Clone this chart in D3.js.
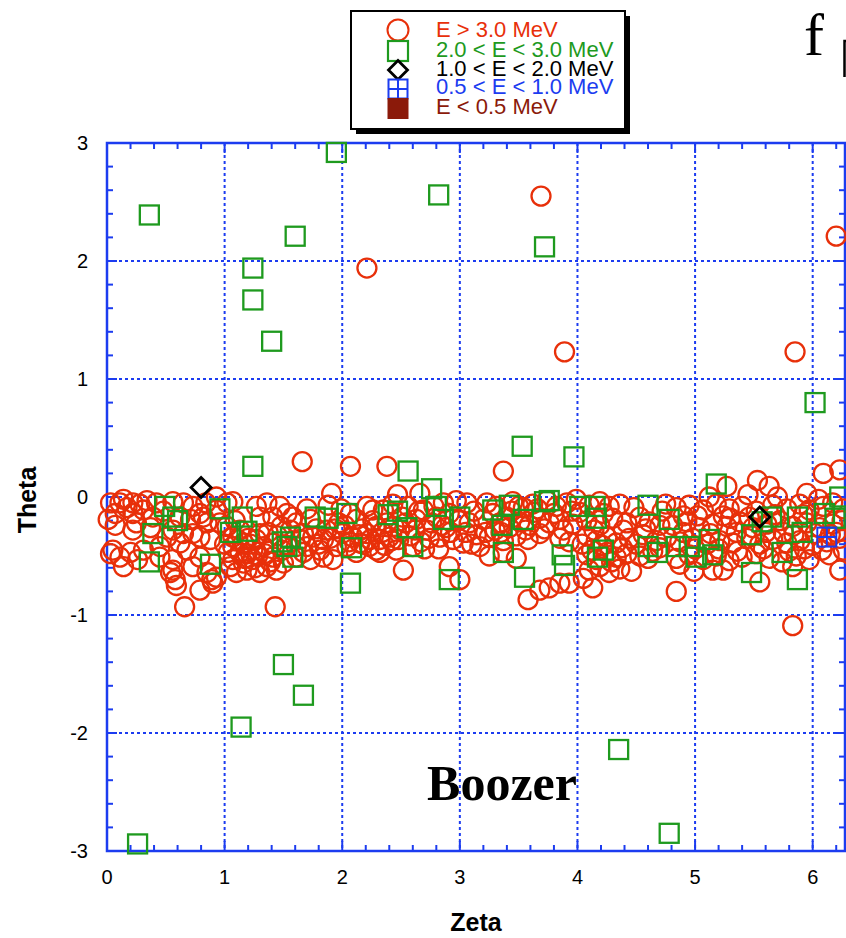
<!DOCTYPE html>
<html>
<head>
<meta charset="utf-8">
<script src="https://cdn.jsdelivr.net/npm/d3@7"></script>
<style>
  html, body { margin: 0; padding: 0; background: #fff; }
  svg { display: block; }
</style>
</head>
<body>
<div id="chart"></div>
<script>
// Data: [zeta, theta]
const redOutliers = [
  [3.69, 2.55], [2.21, 1.94], [3.89, 1.23], [5.85, 1.23], [6.20, 2.21],
  [1.66, 0.30], [2.07, 0.26], [2.38, 0.26], [3.37, 0.22],
  [1.43, -0.93], [0.66, -0.93], [5.83, -1.09], [4.84, -0.80]
];

const redBand = [
  // zeta 0 - 1
  [0.03, -0.05], [0.07, -0.14], [0.01, -0.19], [0.11, -0.05], [0.17, -0.09], [0.07, -0.24],
  [0.22, -0.14], [0.34, -0.03], [0.31, -0.11], [0.25, -0.22], [0.42, -0.05], [0.39, -0.17],
  [0.56, -0.04], [0.65, -0.05], [0.73, -0.08], [0.62, -0.17], [0.71, -0.19], [0.79, -0.14],
  [0.85, -0.22], [0.93, 0.00], [0.93, -0.11], [1.02, -0.05], [0.56, -0.28], [0.65, -0.31],
  [0.51, -0.34], [0.73, -0.31], [0.79, -0.34], [0.62, -0.39], [0.88, -0.36], [0.05, -0.45],
  [0.11, -0.51], [0.20, -0.47], [0.14, -0.59], [0.31, -0.45], [0.45, -0.51], [0.56, -0.53],
  [0.45, -0.42], [0.22, -0.28], [0.37, -0.26], [0.54, -0.64], [0.58, -0.70], [0.59, -0.75],
  [0.56, -0.62], [0.73, -0.59], [0.79, -0.51], [0.85, -0.64], [0.89, -0.70], [0.93, -0.68],
  [0.79, -0.79], [0.90, -0.73], [0.82, -0.17], [0.96, -0.22], [0.22, -0.05], [0.14, -0.02],
  [0.28, -0.06], [0.48, -0.12], [0.03, -0.48], [0.26, -0.53], [0.68, -0.45], [0.84, -0.05],
  // zeta 1 - 1.6
  [1.07, -0.42], [1.16, -0.39], [1.24, -0.45], [1.33, -0.42], [1.41, -0.39], [1.49, -0.45],
  [1.07, -0.53], [1.16, -0.56], [1.24, -0.53], [1.36, -0.59], [1.19, -0.62], [1.10, -0.64],
  [1.05, -0.59], [1.30, -0.64], [1.44, -0.62], [1.19, -0.48], [1.07, -0.34], [1.13, -0.28],
  [1.02, -0.25], [1.36, -0.05], [1.27, -0.08], [1.47, -0.08], [1.30, -0.31], [1.41, -0.51],
  [1.50, -0.56], [1.07, -0.04], [1.30, -0.17], [1.41, -0.17], [1.53, -0.14], [1.56, -0.28],
  [1.53, -0.41], [1.20, -0.35], [1.37, -0.30], [1.28, -0.50], [1.13, -0.47],
  [1.03, -0.47], [1.11, -0.36], [1.22, -0.40], [1.27, -0.36], [1.34, -0.48], [1.45, -0.33],
  [1.39, -0.55], [1.17, -0.52], [1.26, -0.60], [1.00, -0.40], [1.48, -0.25], [1.09, -0.20],
  // zeta 1.6 - 3.2
  [1.91, 0.03], [2.66, 0.03], [1.88, -0.07], [1.61, -0.22], [1.67, -0.31], [1.61, -0.42],
  [1.67, -0.47], [1.75, -0.34], [1.84, -0.36], [1.87, -0.28], [1.92, -0.53], [1.81, -0.45],
  [2.00, -0.31], [2.07, -0.14], [2.12, -0.19], [2.15, -0.39], [2.12, -0.47], [2.21, -0.31],
  [2.23, -0.42], [2.29, -0.25], [2.32, -0.36], [2.38, -0.22], [2.40, -0.34], [2.46, -0.45],
  [2.49, -0.28], [2.51, -0.17], [2.52, -0.62], [2.35, -0.11], [2.60, -0.42], [2.63, -0.19],
  [2.69, -0.11], [2.72, -0.28], [2.80, -0.17], [2.83, -0.34], [2.86, -0.05], [2.91, -0.14],
  [2.94, -0.36], [2.97, -0.03], [3.03, -0.39], [3.06, -0.05], [3.08, -0.22], [2.91, -0.59],
  [3.00, -0.70], [1.58, -0.17], [1.73, -0.19], [2.21, -0.08], [2.26, -0.11], [1.95, -0.42],
  [2.04, -0.42], [2.09, -0.34], [2.29, -0.45], [1.84, -0.51], [1.73, -0.53], [1.61, -0.51],
  [2.32, -0.47], [1.97, -0.22], [2.17, -0.27], [2.43, -0.06], [2.56, -0.08], [2.58, -0.33],
  [2.67, -0.38], [2.76, -0.22], [2.88, -0.26], [3.12, -0.12], [3.14, -0.32], [2.47, 0.02],
  [2.44, -0.25], [2.26, -0.20],
  [1.64, -0.36], [1.70, -0.42], [1.78, -0.27], [1.80, -0.40], [1.90, -0.35], [1.94, -0.27],
  [2.02, -0.24], [2.06, -0.38], [2.14, -0.32], [1.70, -0.10], [1.99, -0.10], [2.18, -0.40],
  [2.24, -0.36], [2.34, -0.30], [2.36, -0.41], [2.42, -0.37], [2.48, -0.36], [2.54, -0.22],
  [2.62, -0.28], [2.65, -0.12], [2.74, -0.35], [2.78, -0.08], [2.85, -0.24], [2.92, -0.30],
  [2.99, -0.20], [3.05, -0.30], [3.10, -0.40], [2.70, -0.44], [2.82, -0.44],
  // zeta 3.2 - 4.8
  [3.23, -0.05], [3.31, -0.08], [3.45, -0.04], [3.54, -0.09], [3.62, -0.06], [3.74, -0.03],
  [3.82, -0.08], [3.91, -0.05], [3.99, -0.02], [4.10, -0.07], [4.19, -0.04], [4.27, -0.08],
  [4.36, -0.06],
  [3.20, -0.19], [3.34, -0.22], [3.40, -0.17], [3.51, -0.21], [3.59, -0.24], [3.68, -0.18],
  [3.76, -0.22], [3.85, -0.19], [3.96, -0.23], [4.08, -0.20], [4.19, -0.24], [4.30, -0.18],
  [4.42, -0.22], [4.53, -0.17], [4.61, -0.21], [4.70, -0.24],
  [3.25, -0.34], [3.37, -0.37], [3.48, -0.33], [3.58, -0.36], [3.68, -0.31], [3.85, -0.35],
  [3.93, -0.38], [4.08, -0.33], [4.16, -0.37], [4.25, -0.34], [4.33, -0.39], [4.44, -0.35],
  [4.56, -0.32], [4.67, -0.37], [4.76, -0.34],
  [3.25, -0.50], [3.37, -0.47], [3.48, -0.52], [4.08, -0.49], [4.16, -0.53], [4.25, -0.47],
  [4.33, -0.51], [4.42, -0.48], [4.53, -0.50], [4.64, -0.46],
  [4.10, -0.62], [4.19, -0.59], [4.27, -0.64], [4.36, -0.61], [4.46, -0.63],
  [3.58, -0.87], [3.68, -0.79], [3.76, -0.77], [3.85, -0.73], [3.93, -0.73], [4.13, -0.77],
  [4.05, -0.69],
  [3.30, -0.28], [3.44, -0.12], [3.63, -0.13], [3.72, -0.27], [3.80, -0.14], [4.02, -0.13],
  [4.14, -0.28], [4.22, -0.14], [4.39, -0.28], [4.48, -0.09], [4.58, -0.27], [4.72, -0.12],
  [3.17, -0.42],
  [3.28, -0.14], [3.35, -0.30], [3.42, -0.26], [3.50, -0.08], [3.56, -0.28], [3.66, -0.10],
  [3.88, -0.28], [3.95, -0.12], [4.04, -0.40], [4.12, -0.45], [4.21, -0.41], [4.29, -0.55],
  [4.38, -0.43], [4.50, -0.40], [4.60, -0.52], [4.70, -0.43], [4.75, -0.06], [3.22, -0.30],
  // zeta 4.8 - 6.28
  [4.84, -0.09], [4.95, -0.07], [5.07, -0.11], [5.18, -0.06], [5.29, -0.10], [5.40, -0.08],
  [5.52, -0.12], [5.66, -0.07], [5.78, -0.10], [5.89, -0.06], [5.97, -0.11], [6.09, -0.08],
  [6.17, -0.05], [6.26, -0.10],
  [4.81, -0.24], [4.93, -0.21], [5.04, -0.26], [5.15, -0.23], [5.27, -0.25], [5.38, -0.21],
  [5.49, -0.26], [5.61, -0.23], [5.72, -0.20], [5.83, -0.25], [5.95, -0.22], [6.06, -0.26],
  [6.17, -0.23],
  [4.87, -0.38], [4.98, -0.35], [5.10, -0.40], [5.21, -0.37], [5.32, -0.39], [5.44, -0.35],
  [5.55, -0.40], [5.66, -0.36], [5.78, -0.39], [5.89, -0.37], [6.00, -0.41], [6.12, -0.38],
  [6.23, -0.35],
  [4.84, -0.52], [4.95, -0.49], [5.07, -0.53], [5.18, -0.50], [5.29, -0.54], [5.40, -0.51],
  [5.52, -0.48], [5.63, -0.52], [5.74, -0.55], [5.86, -0.50], [5.97, -0.53], [6.14, -0.49],
  [4.87, -0.57], [5.15, -0.62], [5.24, -0.62], [5.55, -0.72], [5.83, -0.59], [6.23, -0.62],
  [4.99, -0.63],
  [5.53, 0.14], [5.63, 0.09], [5.27, 0.09], [6.09, 0.20], [6.23, 0.23], [5.45, 0.02],
  [5.70, 0.00], [5.95, 0.03], [6.05, -0.02], [5.12, 0.00],
  [4.90, -0.30], [5.02, -0.16], [5.24, -0.16], [5.35, -0.30], [5.46, -0.17], [5.60, -0.30],
  [5.75, -0.30], [5.92, -0.15], [6.02, -0.31], [6.20, -0.30],
  [4.90, -0.16], [5.00, -0.44], [5.13, -0.31], [5.20, -0.44], [5.30, -0.18], [5.36, -0.46],
  [5.48, -0.33], [5.58, -0.44], [5.68, -0.15], [5.80, -0.46], [5.84, -0.32], [5.93, -0.44],
  [6.08, -0.45], [6.15, -0.32], [6.26, -0.45], [6.25, -0.20]
];

const greenSquares = [
  [0.36, 2.39], [1.95, 2.92], [2.82, 2.56], [1.24, 1.94], [1.60, 2.21], [1.24, 1.67],
  [1.40, 1.32], [3.72, 2.12], [6.02, 0.80], [1.24, 0.26], [2.56, 0.22], [2.76, 0.07],
  [3.53, 0.43], [3.97, 0.34], [5.18, 0.11], [2.07, -0.73], [2.91, -0.70], [3.55, -0.68],
  [5.48, -0.64], [5.87, -0.70], [1.50, -1.42], [1.67, -1.68], [1.14, -1.95], [4.35, -2.14],
  [4.78, -2.85], [0.26, -2.94], [0.36, -0.55],
  [0.49, -0.08], [0.56, -0.17], [0.60, -0.20], [0.39, -0.31], [0.96, -0.10], [0.88, -0.57],
  [1.15, -0.17], [1.05, -0.30], [1.19, -0.29], [1.49, -0.38], [1.53, -0.42], [1.56, -0.34],
  [1.58, -0.51], [1.77, -0.17], [1.88, -0.18], [2.04, -0.14], [2.08, -0.43], [2.39, -0.15],
  [2.47, -0.12], [2.55, -0.26], [2.60, -0.42], [2.80, -0.08], [2.86, -0.19], [3.00, -0.17],
  [3.28, -0.11], [3.42, -0.07], [3.54, -0.19], [3.36, -0.24], [3.72, -0.04], [3.76, -0.03],
  [4.02, -0.08], [4.15, -0.08], [4.16, -0.18], [3.37, -0.47], [3.87, -0.49], [3.89, -0.58],
  [4.22, -0.45], [4.17, -0.51], [4.60, -0.07], [4.60, -0.42], [4.68, -0.47], [4.78, -0.19],
  [4.84, -0.42], [4.95, -0.42], [5.01, -0.51], [5.12, -0.36], [5.15, -0.49], [5.48, -0.32],
  [5.57, -0.21], [5.65, -0.17], [5.74, -0.47], [5.87, -0.17], [5.91, -0.30], [6.10, -0.14],
  [6.19, -0.18], [6.23, 0.00]
];

const blackDiamonds = [[0.80, 0.08], [5.55, -0.17]];
const blueSquares = [[6.12, -0.34]];

const xTicks = [0, 1, 2, 3, 4, 5, 6];
const yTicks = [-3, -2, -1, 0, 1, 2, 3];

const legendLabels = ['E > 3.0 MeV', '2.0 < E < 3.0 MeV', '1.0 < E < 2.0 MeV', '0.5 < E < 1.0 MeV', 'E < 0.5 MeV'];

// colours
const RED = '#e8300a', GREEN = '#1e9a1e', BLUE = '#1c3cf0', DARKRED = '#8b1a0a';
const legendColors = [RED, GREEN, '#000', BLUE, DARKRED];

const width = 846, height = 938;
const plotLeft = 107, plotRight = 846, plotTop = 143, plotBottom = 851;

const svg = d3.select('#chart').append('svg')
  .attr('width', width)
  .attr('height', height)
  .style('background', '#fff');

const x = d3.scaleLinear().domain([0, 2 * Math.PI]).range([plotLeft, plotRight]);
const y = d3.scaleLinear().domain([-3, 3]).range([plotBottom, plotTop]);

// grid lines (dotted blue)
const grid = svg.append('g');
grid.selectAll('.gx').data(xTicks.filter(d => d > 0))
  .join('line')
  .attr('x1', d => x(d)).attr('x2', d => x(d))
  .attr('y1', plotTop).attr('y2', plotBottom)
  .attr('stroke', BLUE).attr('stroke-width', 2).attr('stroke-dasharray', '3,3');
grid.selectAll('.gy').data(yTicks.filter(d => d > -3 && d < 3))
  .join('line')
  .attr('x1', plotLeft).attr('x2', plotRight)
  .attr('y1', d => y(d)).attr('y2', d => y(d))
  .attr('stroke', BLUE).attr('stroke-width', 2).attr('stroke-dasharray', '3,3');

// minor ticks on all four sides, pointing in
const isMajor = d => Math.abs(d - Math.round(d)) < 1e-6;
const minorX = d3.range(0, 6.3, 0.2);
const minorY = d3.range(-3, 3.01, 0.2);
const ticks = svg.append('g').attr('stroke', BLUE).attr('stroke-width', 2);
ticks.selectAll('.tb').data(minorX).join('line')
  .attr('x1', d => x(d)).attr('x2', d => x(d))
  .attr('y1', plotBottom).attr('y2', d => plotBottom - (isMajor(d) ? 10 : 6));
ticks.selectAll('.tt').data(minorX).join('line')
  .attr('x1', d => x(d)).attr('x2', d => x(d))
  .attr('y1', plotTop).attr('y2', d => plotTop + (isMajor(d) ? 10 : 6));
ticks.selectAll('.tl').data(minorY).join('line')
  .attr('y1', d => y(d)).attr('y2', d => y(d))
  .attr('x1', plotLeft).attr('x2', d => plotLeft + (isMajor(d) ? 10 : 6));
ticks.selectAll('.tr').data(minorY).join('line')
  .attr('y1', d => y(d)).attr('y2', d => y(d))
  .attr('x1', plotRight - 1).attr('x2', d => plotRight - 1 - (isMajor(d) ? 10 : 6));

// frame
svg.append('rect')
  .attr('x', plotLeft).attr('y', plotTop)
  .attr('width', plotRight - plotLeft - 1).attr('height', plotBottom - plotTop)
  .attr('fill', 'none').attr('stroke', BLUE).attr('stroke-width', 2.5);

// tick labels
svg.append('g').selectAll('text').data(xTicks).join('text')
  .attr('x', d => x(d)).attr('y', 884)
  .attr('text-anchor', 'middle')
  .attr('font-family', 'Liberation Sans, Arial, sans-serif')
  .attr('font-size', 20)
  .text(d => d);
svg.append('g').selectAll('text').data(yTicks).join('text')
  .attr('x', 88).attr('y', d => y(d) + 7)
  .attr('text-anchor', 'end')
  .attr('font-family', 'Liberation Sans, Arial, sans-serif')
  .attr('font-size', 20)
  .text(d => d);

// axis titles
svg.append('text')
  .attr('x', 476).attr('y', 931)
  .attr('text-anchor', 'middle')
  .attr('font-family', 'Liberation Sans, Arial, sans-serif')
  .attr('font-weight', 'bold').attr('font-size', 25)
  .text('Zeta');
svg.append('text')
  .attr('transform', 'translate(36,500) rotate(-90)')
  .attr('text-anchor', 'middle')
  .attr('font-family', 'Liberation Sans, Arial, sans-serif')
  .attr('font-weight', 'bold').attr('font-size', 25)
  .text('Theta');

// markers
const plot = svg.append('g');
plot.selectAll('circle.red').data(redBand.concat(redOutliers)).join('circle')
  .attr('class', 'red')
  .attr('cx', d => x(d[0])).attr('cy', d => y(d[1]))
  .attr('r', 9.5)
  .attr('fill', 'none').attr('stroke', RED).attr('stroke-width', 2.3);

const sq = 19;
plot.selectAll('rect.green').data(greenSquares).join('rect')
  .attr('class', 'green')
  .attr('x', d => x(d[0]) - sq / 2).attr('y', d => y(d[1]) - sq / 2)
  .attr('width', sq).attr('height', sq)
  .attr('fill', 'none').attr('stroke', GREEN).attr('stroke-width', 2.3);

const dm = 10;
plot.selectAll('path.diamond').data(blackDiamonds).join('path')
  .attr('class', 'diamond')
  .attr('d', d => {
    const cx = x(d[0]), cy = y(d[1]);
    return `M${cx},${cy - dm}L${cx + dm},${cy}L${cx},${cy + dm}L${cx - dm},${cy}Z`;
  })
  .attr('fill', 'none').attr('stroke', '#000').attr('stroke-width', 2.8);

const blue = plot.selectAll('g.blue').data(blueSquares).join('g')
  .attr('class', 'blue')
  .attr('transform', d => `translate(${x(d[0])},${y(d[1])})`);
blue.append('rect')
  .attr('x', -sq / 2).attr('y', -sq / 2).attr('width', sq).attr('height', sq)
  .attr('fill', 'none').attr('stroke', BLUE).attr('stroke-width', 2);
blue.append('path')
  .attr('d', `M0,${-sq / 2}V${sq / 2}M${-sq / 2},0H${sq / 2}`)
  .attr('stroke', BLUE).attr('stroke-width', 2);

// "Boozer" label
svg.append('text')
  .attr('x', 502).attr('y', 800)
  .attr('text-anchor', 'middle')
  .attr('font-family', 'Liberation Serif, Times New Roman, serif')
  .attr('font-weight', 'bold').attr('font-size', 50)
  .text('Boozer');

// "f" fragment at top right
svg.append('text')
  .attr('x', 804).attr('y', 55)
  .attr('font-family', 'Liberation Serif, Times New Roman, serif')
  .attr('font-size', 60)
  .text('f');
svg.append('path')
  .attr('d', 'M846,41H844.5V77')
  .attr('fill', 'none').attr('stroke', '#000').attr('stroke-width', 2.5);

// legend
const lg = svg.append('g');
lg.append('rect').attr('x', 356).attr('y', 16).attr('width', 274).attr('height', 118).attr('fill', '#000');
lg.append('rect').attr('x', 351).attr('y', 11).attr('width', 274).attr('height', 118)
  .attr('fill', '#fff').attr('stroke', '#000').attr('stroke-width', 2);

const rowY = [30, 51, 70, 89, 108];
const mx = 398;
lg.append('circle').attr('cx', mx).attr('cy', rowY[0]).attr('r', 10.5)
  .attr('fill', 'none').attr('stroke', RED).attr('stroke-width', 2);
lg.append('rect').attr('x', mx - 10).attr('y', rowY[1] - 10).attr('width', 20).attr('height', 20)
  .attr('fill', 'none').attr('stroke', GREEN).attr('stroke-width', 2.2);
lg.append('path')
  .attr('d', `M${mx},${rowY[2] - 9.5}L${mx + 9.5},${rowY[2]}L${mx},${rowY[2] + 9.5}L${mx - 9.5},${rowY[2]}Z`)
  .attr('fill', 'none').attr('stroke', '#000').attr('stroke-width', 2.8);
lg.append('rect').attr('x', mx - 9.5).attr('y', rowY[3] - 9.5).attr('width', 19).attr('height', 19)
  .attr('fill', 'none').attr('stroke', BLUE).attr('stroke-width', 2);
lg.append('path')
  .attr('d', `M${mx},${rowY[3] - 9.5}V${rowY[3] + 9.5}M${mx - 9.5},${rowY[3]}H${mx + 9.5}`)
  .attr('stroke', BLUE).attr('stroke-width', 2);
lg.append('rect').attr('x', mx - 10.5).attr('y', rowY[4] - 10).attr('width', 21).attr('height', 21)
  .attr('fill', DARKRED);

lg.selectAll('text').data(legendLabels).join('text')
  .attr('x', 436)
  .attr('y', (d, i) => [29.5, 49, 68, 86.5, 106][i] + 7.8)
  .attr('font-family', 'Liberation Sans, Arial, sans-serif')
  .attr('font-size', 22)
  .attr('fill', (d, i) => legendColors[i])
  .text(d => d);
</script>
</body>
</html>
